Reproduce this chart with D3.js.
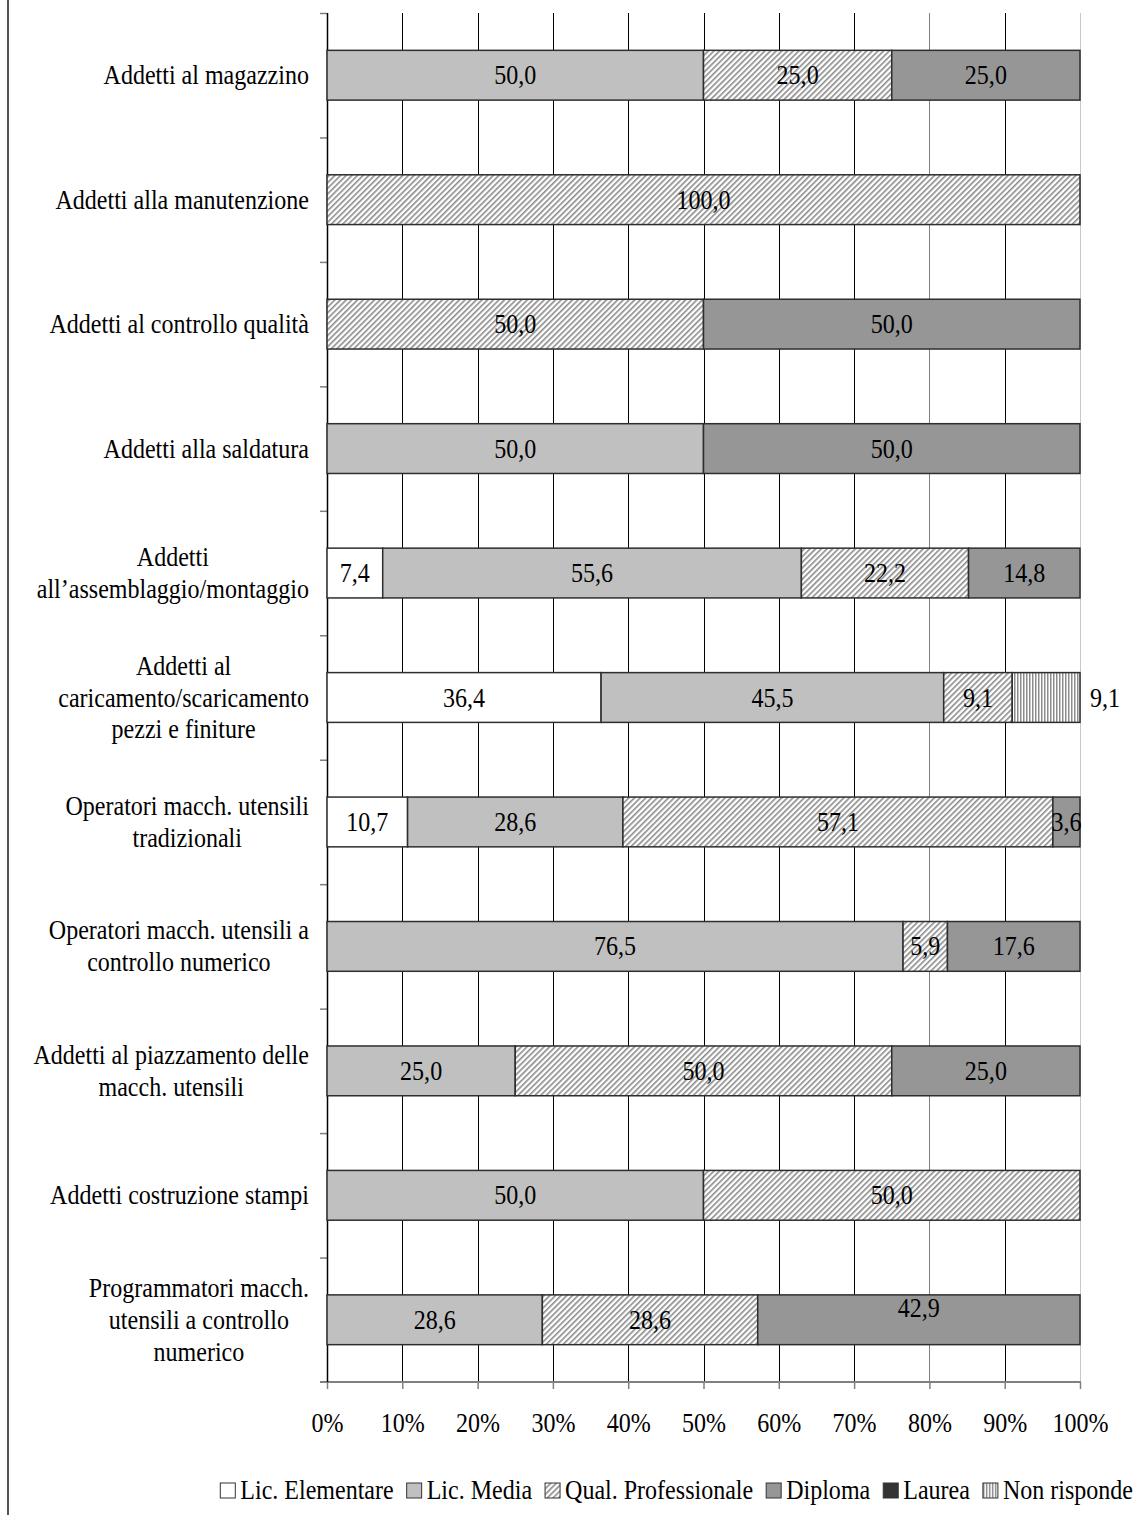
<!DOCTYPE html>
<html>
<head>
<meta charset="utf-8">
<script src="https://cdn.jsdelivr.net/npm/d3@7"></script>
<style>
  html, body { margin: 0; padding: 0; background: #fff; }
  svg { display: block; }
  text { font-family: "Liberation Serif", "Times New Roman", serif; fill: #000; }
</style>
</head>
<body>
<svg id="chart" width="1137" height="1515"></svg>
<script>
// Occupational profiles (rows) by level of education (stacked shares, %)
const categories = [
  "Addetti al magazzino",
  "Addetti alla manutenzione",
  "Addetti al controllo qualità",
  "Addetti alla saldatura",
  "Addetti\nall’assemblaggio/montaggio",
  "Addetti al\ncaricamento/scaricamento\npezzi e finiture",
  "Operatori macch. utensili\ntradizionali",
  "Operatori macch. utensili a\ncontrollo numerico",
  "Addetti al piazzamento delle\nmacch. utensili",
  "Addetti costruzione stampi",
  "Programmatori macch.\nutensili a controllo\nnumerico"
];

const seriesNames = ["Lic. Elementare", "Lic. Media", "Qual. Professionale", "Diploma", "Laurea", "Non risponde"];

const licElementare     = [0, 0, 0, 0, 7.4, 36.4, 10.7, 0, 0, 0, 0];
const licMedia          = [50.0, 0, 0, 50.0, 55.6, 45.5, 28.6, 76.5, 25.0, 50.0, 28.6];
const qualProfessionale = [25.0, 100.0, 50.0, 0, 22.2, 9.1, 57.1, 5.9, 50.0, 50.0, 28.6];
const diploma           = [25.0, 0, 50.0, 50.0, 14.8, 0, 3.6, 17.6, 25.0, 0, 42.9];
const laurea            = [0, 0, 0, 0, 0, 0, 0, 0, 0, 0, 0];
const nonRisponde       = [0, 0, 0, 0, 0, 9.1, 0, 0, 0, 0, 0];

const xTicks = [0, 10, 20, 30, 40, 50, 60, 70, 80, 90, 100];

// ---- build rows for d3.stack ----
const seriesValues = [licElementare, licMedia, qualProfessionale, diploma, laurea, nonRisponde];
const rows = categories.map((c, i) => {
  const r = { category: c };
  seriesNames.forEach((s, j) => { r[s] = seriesValues[j][i]; });
  return r;
});
const stacked = d3.stack().keys(seriesNames)(rows);

// ---- layout ----
const svg = d3.select("#chart");
const plot = { left: 327, right: 1080, top: 13, bottom: 1382 };
const SX = 0.89;          // horizontal squeeze of the serif type
const FONT = 27;

const x = d3.scaleLinear().domain([0, 100]).range([plot.left, plot.right]).clamp(true);
const y = d3.scaleBand().domain(categories).range([plot.top, plot.bottom])
  .paddingInner(0.6).paddingOuter(0.3);
const yEdges = d3.scaleLinear().domain([0, categories.length]).range([plot.top, plot.bottom]);

// ---- fills ----
const defs = svg.append("defs");
const hatch = defs.append("pattern").attr("id", "diag")
  .attr("patternUnits", "userSpaceOnUse").attr("width", 4).attr("height", 4)
  .attr("patternTransform", "rotate(45)");
hatch.append("rect").attr("width", 4).attr("height", 4).attr("fill", "#fff");
hatch.append("rect").attr("x", 0).attr("width", 1.6).attr("height", 4).attr("fill", "#8a8a8a");

const vert = defs.append("pattern").attr("id", "vert")
  .attr("patternUnits", "userSpaceOnUse").attr("width", 3).attr("height", 3);
vert.append("rect").attr("width", 3).attr("height", 3).attr("fill", "#fff");
vert.append("rect").attr("x", 0).attr("width", 1.5).attr("height", 3).attr("fill", "#8c8c8c");

const fills = {
  "Lic. Elementare": "#ffffff",
  "Lic. Media": "#c0c0c0",
  "Qual. Professionale": "url(#diag)",
  "Diploma": "#969696",
  "Laurea": "#333333",
  "Non risponde": "url(#vert)"
};

// ---- outer frame edge ----
svg.append("line").attr("x1", 8).attr("x2", 8).attr("y1", 0).attr("y2", 1515)
  .attr("stroke", "#1a1a1a").attr("stroke-width", 1.5);

// ---- vertical gridlines ----
const gridColor = v => v === 100 ? "#c8c8c8" : (v === 80 ? "#808080" : "#000");
svg.append("g").selectAll("line").data(xTicks.filter(v => v > 0)).join("line")
  .attr("x1", d => Math.round(x(d)) + 0.5).attr("x2", d => Math.round(x(d)) + 0.5)
  .attr("y1", plot.top).attr("y2", plot.bottom)
  .attr("stroke", gridColor).attr("stroke-width", 1);

// ---- x axis ----
const xAxis = svg.append("g").attr("transform", `translate(0,${plot.bottom})`)
  .call(d3.axisBottom(x).tickValues(xTicks).tickFormat(d => d + "%").tickSize(7).tickSizeOuter(0));
xAxis.select(".domain").remove();
xAxis.selectAll(".tick line").attr("stroke", "#808080").attr("stroke-width", 1.5);
xAxis.selectAll(".tick text")
  .attr("y", 50).attr("dy", 0)
  .attr("transform", `scale(${SX},1)`)
  .style("font-size", FONT + "px").style("font-family", "Liberation Serif, serif").attr("fill", "#000");
svg.append("line").attr("x1", 320).attr("x2", plot.right + 1)
  .attr("y1", plot.bottom).attr("y2", plot.bottom)
  .attr("stroke", "#808080").attr("stroke-width", 2);

// ---- y axis (ticks on the category boundaries) ----
const yAxis = svg.append("g").attr("transform", `translate(${plot.left},0)`)
  .call(d3.axisLeft(yEdges).tickValues(d3.range(0, categories.length)).tickFormat("").tickSize(7).tickSizeOuter(0));
yAxis.select(".domain").remove();
yAxis.selectAll(".tick line").attr("stroke", "#808080").attr("stroke-width", 1.5);
svg.append("line").attr("x1", plot.left + 0.5).attr("x2", plot.left + 0.5)
  .attr("y1", plot.top).attr("y2", plot.bottom)
  .attr("stroke", "#000").attr("stroke-width", 1.5);

// ---- bars ----
const layers = svg.append("g").selectAll("g").data(stacked).join("g")
  .attr("fill", d => fills[d.key]);
layers.selectAll("rect").data(d => d.filter(p => p[1] - p[0] > 0)).join("rect")
  .attr("x", d => x(d[0]))
  .attr("y", d => y(d.data.category))
  .attr("width", d => x(d[1]) - x(d[0]))
  .attr("height", y.bandwidth())
  .attr("stroke", "#2e2e2e").attr("stroke-width", 1.5);

// ---- value labels ----
const fmt = v => d3.format(".1f")(v).replace(".", ",");
const labelData = [];
stacked.forEach(layer => {
  layer.forEach(p => {
    const v = p[1] - p[0];
    if (v <= 0) return;
    labelData.push({ key: layer.key, cat: p.data.category, v: p.data[layer.key], x0: x(p[0]), x1: x(p[1]) });
  });
});
svg.append("g").selectAll("text").data(labelData).join("text")
  .attr("transform", d => {
    let cx = (d.x0 + d.x1) / 2;
    let cy = y(d.cat) + y.bandwidth() / 2 + 9;
    // "Non risponde" labels sit just outside the bar end
    if (d.key === "Non risponde") cx = plot.right + 25;
    // the last Diploma label is lifted off the centre line
    if (d.cat === categories[categories.length - 1] && d.key === "Diploma") cy -= 12;
    return `translate(${cx},${cy}) scale(${SX},1)`;
  })
  .attr("text-anchor", "middle")
  .style("font-size", FONT + "px")
  .text(d => fmt(d.v));

// ---- category labels ----
const LINE = 32;
const catG = svg.append("g");
categories.forEach(c => {
  const lines = c.split("\n");
  const cy = y(c) + y.bandwidth() / 2;
  const t = catG.append("text")
    .attr("text-anchor", "middle")
    .style("font-size", FONT + "px");
  lines.forEach((ln, i) => {
    t.append("tspan").attr("x", 0).attr("y", (i - (lines.length - 1) / 2) * LINE + 9).text(ln);
  });
  let maxW = 0;
  t.selectAll("tspan").each(function () { maxW = Math.max(maxW, this.getComputedTextLength()); });
  const cx = 309 - (maxW * SX) / 2;
  t.attr("transform", `translate(${cx},${cy}) scale(${SX},1)`);
});

// ---- legend ----
const legend = svg.append("g");
const items = [];
seriesNames.forEach(name => {
  const g = legend.append("g");
  g.append("rect").attr("x", 0).attr("y", -16).attr("width", 15).attr("height", 15)
    .attr("fill", fills[name]).attr("stroke", "#333").attr("stroke-width", 1);
  const t = g.append("text").attr("transform", `translate(20,0) scale(${SX},1)`)
    .style("font-size", FONT + "px").text(name);
  const w = 20 + t.node().getComputedTextLength() * SX;
  items.push({ g, w });
});
const gap = 13;
const total = d3.sum(items, d => d.w) + gap * (items.length - 1);
let lx = 1133 - total;
items.forEach(it => {
  it.g.attr("transform", `translate(${lx},1499)`);
  lx += it.w + gap;
});
</script>
</body>
</html>
